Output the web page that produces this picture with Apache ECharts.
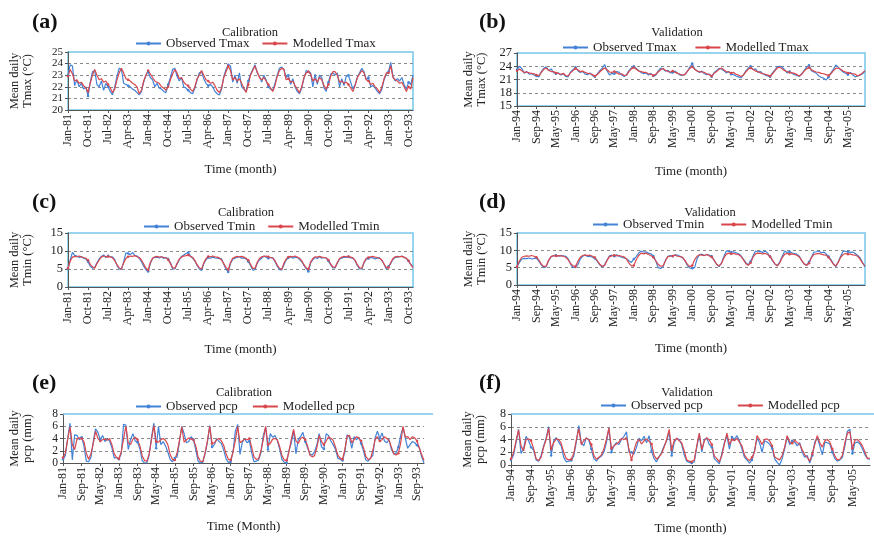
<!DOCTYPE html>
<html>
<head>
<meta charset="utf-8">
<script src="https://cdn.jsdelivr.net/npm/echarts@6/dist/echarts.min.js"></script>
<style>
  html, body { margin: 0; padding: 0; background: #fff; }
  #chart { width: 874px; height: 536px; }
</style>
</head>
<body>
<div id="chart"></div>
<script>
// month names and years used to build the category axes
var monthNames = ['Jan', 'Feb', 'Mar', 'Apr', 'May', 'Jun', 'Jul', 'Aug', 'Sep', 'Oct', 'Nov', 'Dec'];
var calYears = ['81', '82', '83', '84', '85', '86', '87', '88', '89', '90', '91', '92', '93'];
var valYears = ['94', '95', '96', '97', '98', '99', '00', '01', '02', '03', '04', '05'];

// (a) Tmax calibration, one row per year
var tmaxCalObs = [
  [23.0, 23.9, 23.8, 22.1, 22.6, 22.0, 22.3, 21.8, 22.0, 21.2, 22.4, 23.3],
  [23.4, 22.2, 22.0, 22.5, 21.7, 22.3, 22.0, 21.6, 21.3, 22.0, 22.9, 23.6],
  [23.5, 22.3, 22.2, 22.1, 22.0, 21.8, 21.7, 21.5, 21.3, 21.6, 22.4, 23.0],
  [23.3, 22.8, 22.6, 22.0, 22.3, 21.9, 21.8, 21.6, 21.5, 22.2, 22.8, 23.5],
  [23.6, 22.9, 22.5, 22.8, 22.0, 21.9, 21.7, 21.5, 21.4, 21.9, 22.6, 23.2],
  [23.3, 22.7, 22.3, 22.1, 22.2, 22.0, 21.6, 21.4, 21.3, 21.8, 22.9, 23.5],
  [23.9, 23.8, 22.4, 23.0, 22.3, 23.2, 22.0, 21.8, 21.6, 22.5, 23.1, 23.5],
  [23.9, 23.2, 22.9, 22.4, 23.0, 22.6, 22.0, 21.8, 21.7, 22.3, 23.0, 23.6],
  [23.7, 23.5, 22.8, 23.0, 22.2, 22.7, 22.0, 21.6, 21.4, 21.9, 22.7, 23.4],
  [23.3, 23.2, 22.0, 23.1, 22.2, 23.0, 22.8, 21.9, 21.6, 22.4, 23.1, 23.2],
  [23.0, 23.2, 22.0, 22.7, 22.1, 22.9, 23.0, 22.4, 21.8, 22.2, 22.8, 23.2],
  [23.6, 23.3, 22.6, 22.8, 22.0, 22.1, 21.9, 21.6, 21.4, 21.8, 22.6, 23.1],
  [23.3, 24.1, 22.9, 22.5, 22.7, 22.5, 22.8, 22.2, 21.8, 22.4, 22.2, 23.0]
];
var tmaxCalMod = [
  [22.9, 23.5, 23.1, 22.5, 22.6, 22.3, 22.4, 22.1, 21.9, 21.6, 22.3, 23.0],
  [23.5, 23.0, 22.6, 22.7, 22.4, 22.5, 22.2, 21.9, 21.5, 21.8, 22.6, 23.2],
  [23.6, 23.2, 22.7, 22.6, 22.5, 22.3, 22.2, 22.0, 21.4, 21.7, 22.5, 23.0],
  [23.4, 23.1, 22.8, 22.5, 22.4, 22.3, 22.0, 21.9, 21.7, 22.0, 22.6, 23.1],
  [23.5, 23.2, 22.7, 22.8, 22.4, 22.2, 22.1, 21.8, 21.6, 22.0, 22.7, 23.0],
  [23.4, 23.0, 22.6, 22.5, 22.3, 22.4, 22.1, 21.7, 21.5, 21.9, 22.8, 23.3],
  [23.8, 23.4, 22.6, 22.8, 22.5, 22.7, 22.3, 21.9, 21.5, 22.2, 23.0, 23.4],
  [23.8, 23.3, 22.8, 22.6, 22.8, 22.5, 22.2, 21.9, 21.6, 22.1, 22.9, 23.4],
  [23.6, 23.5, 22.6, 22.7, 22.4, 22.5, 22.1, 21.8, 21.5, 22.0, 22.8, 23.2],
  [23.3, 23.1, 22.5, 22.7, 22.4, 22.8, 22.6, 22.1, 21.8, 22.2, 22.9, 23.3],
  [23.3, 23.0, 22.4, 22.5, 22.3, 22.4, 22.2, 21.9, 21.6, 22.1, 22.8, 23.1],
  [23.4, 23.2, 22.6, 22.5, 22.2, 22.3, 22.0, 21.8, 21.5, 22.0, 22.7, 23.2],
  [23.2, 23.8, 22.8, 22.6, 22.5, 22.3, 22.4, 22.0, 21.6, 22.0, 21.8, 22.8]
];

// (b) Tmax validation
var tmaxValObs = [
  [23.2, 24.0, 23.5, 22.4, 22.8, 22.2, 22.3, 22.0, 21.8, 21.6, 22.8, 23.5],
  [23.9, 23.0, 23.4, 22.6, 22.3, 22.5, 22.0, 22.3, 21.7, 21.6, 22.7, 23.2],
  [23.8, 23.0, 22.6, 22.8, 22.2, 22.1, 22.5, 21.9, 21.6, 22.3, 23.0, 23.5],
  [24.4, 23.0, 22.0, 22.4, 22.3, 22.8, 22.6, 22.0, 21.7, 22.1, 23.0, 23.6],
  [24.0, 23.5, 23.0, 22.6, 22.3, 22.5, 22.0, 22.4, 21.8, 22.0, 22.9, 23.6],
  [23.4, 22.9, 23.1, 22.5, 22.6, 22.9, 22.4, 22.0, 21.9, 22.2, 22.8, 23.8],
  [24.6, 23.4, 23.0, 22.6, 22.9, 22.3, 22.1, 22.2, 21.6, 22.6, 23.0, 23.5],
  [23.4, 23.0, 22.5, 22.8, 22.2, 22.1, 21.8, 21.6, 21.4, 22.0, 22.9, 23.6],
  [24.0, 23.2, 23.4, 22.6, 22.8, 22.3, 22.0, 21.8, 21.6, 22.5, 23.2, 23.9],
  [24.0, 23.8, 23.2, 22.5, 22.8, 22.4, 22.1, 21.9, 21.7, 22.3, 23.0, 23.8],
  [24.2, 23.0, 22.7, 22.4, 21.8, 21.5, 21.3, 20.9, 21.5, 22.5, 23.3, 24.3],
  [23.8, 23.2, 22.7, 22.4, 22.1, 22.6, 22.0, 21.6, 21.8, 22.0, 22.3, 22.9]
];
var tmaxValMod = [
  [23.0, 23.4, 23.0, 22.6, 22.7, 22.5, 22.4, 22.3, 22.0, 21.9, 22.6, 23.3],
  [23.6, 23.1, 22.8, 22.8, 22.5, 22.4, 22.2, 22.4, 21.9, 21.8, 22.5, 23.0],
  [23.5, 23.2, 22.8, 22.9, 22.6, 22.4, 22.3, 22.1, 21.8, 22.1, 22.7, 23.2],
  [23.6, 23.2, 22.7, 22.6, 22.8, 22.5, 22.2, 22.3, 21.9, 22.0, 22.8, 23.4],
  [23.7, 23.3, 22.9, 22.8, 22.6, 22.6, 22.3, 22.2, 21.9, 22.2, 22.7, 23.2],
  [23.5, 23.1, 22.8, 22.7, 22.9, 22.6, 22.4, 22.2, 22.0, 22.1, 22.9, 23.5],
  [23.9, 23.3, 22.9, 22.8, 22.7, 22.6, 22.3, 22.1, 21.8, 22.4, 22.8, 23.3],
  [23.6, 23.2, 22.8, 22.7, 22.5, 22.6, 22.2, 22.0, 21.7, 22.0, 22.7, 23.3],
  [23.6, 23.3, 22.9, 22.8, 22.5, 22.3, 22.2, 22.0, 21.8, 22.3, 23.0, 23.6],
  [23.8, 23.4, 23.0, 22.8, 22.6, 22.5, 22.4, 22.1, 21.8, 22.2, 22.9, 23.4],
  [23.7, 23.2, 22.9, 22.7, 22.6, 22.4, 22.3, 22.1, 21.9, 22.3, 23.0, 23.5],
  [23.6, 23.3, 22.9, 22.7, 22.5, 22.4, 22.3, 22.2, 21.8, 22.1, 22.5, 23.0]
];

// (c) Tmin calibration
var tminCalObs = [
  [5.0, 7.5, 9.6, 8.8, 8.6, 8.2, 8.5, 8.0, 7.8, 7.0, 5.8, 5.2],
  [5.5, 6.7, 7.8, 8.5, 8.9, 8.2, 8.7, 8.3, 8.4, 7.6, 6.0, 5.0],
  [4.9, 7.0, 9.5, 9.3, 9.0, 9.6, 8.8, 8.6, 8.0, 7.0, 5.8, 4.8],
  [4.3, 6.5, 8.0, 8.2, 8.3, 8.1, 8.4, 7.9, 8.2, 7.8, 6.8, 5.0],
  [5.0, 6.3, 7.6, 8.5, 8.9, 9.3, 9.6, 8.6, 8.0, 7.2, 6.0, 5.0],
  [4.6, 6.5, 7.6, 8.2, 8.0, 8.3, 8.1, 8.0, 7.9, 7.8, 6.3, 4.9],
  [4.2, 6.5, 7.7, 8.0, 8.2, 8.4, 8.0, 8.1, 7.8, 7.1, 6.0, 4.7],
  [4.8, 6.6, 7.5, 8.0, 8.6, 8.3, 8.0, 8.2, 8.1, 7.0, 5.8, 4.9],
  [4.7, 6.2, 7.5, 8.1, 8.4, 8.0, 8.3, 8.2, 7.7, 7.0, 6.0, 5.1],
  [4.3, 6.7, 7.6, 8.2, 7.9, 8.4, 8.0, 8.2, 8.0, 7.2, 6.2, 5.3],
  [5.3, 6.6, 7.8, 8.0, 8.3, 8.2, 8.4, 8.1, 8.0, 7.3, 5.9, 5.0],
  [5.0, 6.7, 7.7, 7.9, 8.2, 8.1, 7.8, 8.0, 8.1, 7.4, 6.3, 5.0],
  [5.7, 6.5, 7.7, 8.2, 8.3, 8.4, 8.6, 8.2, 7.9, 7.2, 6.3, 5.5]
];
var tminCalMod = [
  [5.2, 7.2, 8.3, 8.5, 8.4, 8.6, 8.3, 8.2, 8.0, 7.4, 6.3, 5.6],
  [5.2, 6.5, 7.5, 8.3, 8.6, 8.4, 8.5, 8.4, 8.1, 7.3, 6.2, 5.3],
  [5.0, 6.7, 7.9, 8.4, 8.6, 8.5, 8.7, 8.4, 8.2, 7.5, 6.4, 5.2],
  [4.7, 6.8, 8.0, 8.4, 8.5, 8.3, 8.4, 8.2, 8.1, 7.6, 6.5, 5.4],
  [5.2, 6.6, 7.8, 8.3, 8.6, 8.7, 8.9, 8.5, 8.2, 7.4, 6.2, 5.3],
  [5.0, 6.7, 7.9, 8.5, 8.4, 8.6, 8.4, 8.3, 8.1, 7.5, 6.5, 5.4],
  [4.8, 6.8, 8.0, 8.3, 8.5, 8.4, 8.5, 8.3, 8.0, 7.4, 6.3, 5.2],
  [5.2, 6.8, 7.9, 8.4, 8.5, 8.6, 8.4, 8.2, 8.0, 7.3, 6.1, 5.2],
  [4.9, 6.6, 7.8, 8.3, 8.5, 8.4, 8.6, 8.3, 8.0, 7.3, 6.2, 5.3],
  [5.0, 6.9, 7.9, 8.4, 8.3, 8.5, 8.3, 8.2, 8.1, 7.5, 6.4, 5.5],
  [5.5, 6.8, 7.9, 8.3, 8.5, 8.4, 8.5, 8.3, 8.1, 7.4, 6.2, 5.3],
  [5.2, 6.9, 8.0, 8.2, 8.4, 8.5, 8.3, 8.2, 7.9, 7.5, 6.4, 5.4],
  [5.4, 6.8, 7.9, 8.4, 8.5, 8.4, 8.5, 8.3, 8.0, 7.3, 6.2, 5.4]
];

// (d) Tmin validation
var tminValObs = [
  [5.3, 6.5, 7.5, 7.7, 7.6, 7.8, 7.5, 7.7, 7.8, 6.8, 5.8, 5.0],
  [5.3, 7.0, 8.2, 8.4, 8.6, 8.3, 8.5, 8.4, 8.3, 7.6, 6.1, 5.0],
  [5.2, 5.8, 7.5, 8.3, 8.6, 8.2, 8.3, 8.0, 7.7, 6.8, 5.8, 5.2],
  [5.8, 7.2, 8.4, 8.6, 8.3, 8.7, 8.3, 8.0, 7.8, 7.6, 7.0, 6.5],
  [7.5, 8.2, 9.2, 9.8, 9.5, 9.6, 9.2, 9.0, 8.4, 7.0, 5.0, 4.8],
  [5.2, 7.1, 8.3, 8.5, 8.3, 8.7, 8.6, 8.3, 7.9, 7.0, 5.6, 4.9],
  [4.8, 5.0, 7.6, 8.8, 8.9, 8.5, 8.8, 8.6, 8.3, 7.1, 6.0, 5.3],
  [6.3, 8.2, 9.8, 9.7, 9.5, 9.6, 9.3, 9.0, 8.5, 7.5, 6.5, 5.8],
  [6.8, 8.4, 9.8, 9.6, 9.7, 9.4, 9.8, 9.2, 8.2, 7.0, 6.0, 5.6],
  [6.7, 8.3, 9.8, 9.4, 9.6, 9.3, 9.1, 8.9, 8.3, 7.0, 6.0, 5.8],
  [6.6, 8.0, 9.5, 9.6, 9.8, 9.3, 9.5, 9.0, 8.2, 7.3, 6.2, 5.3],
  [6.7, 8.3, 9.8, 9.7, 9.6, 9.4, 9.5, 9.1, 8.5, 7.8, 6.5, 5.2]
];
var tminValMod = [
  [5.3, 7.0, 8.0, 8.3, 8.4, 8.3, 8.5, 8.3, 8.0, 7.2, 6.0, 5.3],
  [5.5, 7.2, 8.2, 8.5, 8.4, 8.5, 8.4, 8.3, 8.0, 7.3, 6.2, 5.5],
  [5.3, 6.8, 8.0, 8.5, 8.7, 8.5, 8.6, 8.3, 7.9, 7.0, 6.0, 5.4],
  [5.6, 7.1, 8.2, 8.4, 8.6, 8.4, 8.5, 8.3, 8.1, 7.5, 6.3, 5.5],
  [5.6, 7.3, 8.5, 9.2, 9.0, 9.2, 8.8, 8.5, 8.0, 7.0, 6.0, 5.4],
  [5.5, 7.0, 8.2, 8.3, 8.4, 8.6, 8.3, 8.2, 8.0, 7.1, 6.0, 5.3],
  [5.6, 7.3, 8.3, 8.7, 8.6, 8.5, 8.8, 8.4, 8.1, 7.2, 6.0, 5.5],
  [6.2, 7.8, 8.9, 9.2, 9.0, 9.1, 8.9, 8.8, 8.3, 7.3, 6.2, 5.7],
  [6.4, 8.0, 9.0, 9.2, 9.1, 9.0, 9.1, 8.8, 8.2, 7.2, 6.1, 5.5],
  [6.4, 7.9, 8.9, 9.1, 8.9, 9.0, 8.8, 8.6, 8.1, 7.1, 6.1, 5.6],
  [6.3, 7.9, 8.8, 9.0, 9.1, 8.9, 8.7, 8.6, 8.0, 7.0, 6.0, 5.5],
  [6.5, 8.0, 8.8, 9.1, 8.9, 8.9, 8.7, 8.6, 8.3, 7.4, 6.3, 5.5]
];

// (e) pcp calibration
var pcpCalObs = [
  [0.6, 1.2, 4.0, 6.5, 0.5, 4.6, 4.5, 3.8, 4.2, 2.8, 0.3, 0.2],
  [0.9, 3.5, 5.6, 5.0, 3.8, 4.5, 3.5, 4.0, 3.6, 2.5, 0.8, 0.9],
  [0.6, 1.5, 6.3, 6.2, 2.2, 3.8, 4.8, 3.6, 3.4, 2.3, 0.4, 0.0],
  [0.0, 1.3, 4.2, 6.5, 2.4, 6.0, 3.0, 3.5, 2.8, 1.8, 0.6, 0.2],
  [0.8, 1.0, 3.5, 6.0, 4.8, 3.3, 3.5, 4.3, 3.8, 2.2, 0.3, 0.0],
  [0.1, 1.5, 3.4, 6.1, 2.6, 3.0, 4.0, 3.5, 3.2, 2.1, 0.7, 0.1],
  [0.2, 1.8, 5.2, 6.3, 1.4, 3.4, 4.0, 3.3, 3.6, 1.7, 0.2, 0.3],
  [0.5, 1.7, 4.5, 5.8, 2.2, 4.8, 4.2, 4.5, 3.7, 2.3, 0.6, 0.1],
  [0.0, 2.0, 3.2, 5.3, 1.5, 3.8, 4.3, 5.0, 3.5, 2.5, 1.5, 1.3],
  [1.8, 3.0, 4.8, 2.6, 2.3, 4.8, 4.5, 3.6, 3.0, 2.2, 0.8, 0.6],
  [0.4, 1.8, 4.6, 4.2, 2.4, 4.3, 3.8, 4.2, 3.2, 2.0, 0.5, 0.3],
  [0.8, 1.2, 4.1, 5.2, 4.0, 4.9, 3.6, 3.3, 3.8, 2.2, 1.5, 1.6],
  [2.6, 4.5, 5.8, 4.0, 2.4, 3.0, 3.5, 3.3, 2.9, 2.5, 1.0, 0.0]
];
var pcpCalMod = [
  [0.9, 1.6, 3.8, 5.9, 3.0, 2.2, 3.9, 4.1, 4.0, 3.5, 1.6, 0.6],
  [1.5, 3.2, 5.2, 4.0, 3.6, 3.8, 3.9, 3.7, 4.0, 3.0, 1.5, 0.9],
  [0.7, 1.8, 3.9, 6.0, 3.3, 3.0, 3.9, 4.2, 3.8, 2.8, 1.2, 0.4],
  [0.3, 1.5, 3.8, 6.1, 3.5, 3.4, 3.8, 4.0, 3.7, 3.0, 1.4, 0.6],
  [0.5, 1.7, 3.7, 5.9, 3.4, 3.8, 4.1, 3.9, 3.8, 2.8, 1.0, 0.3],
  [0.2, 1.6, 3.6, 6.0, 3.2, 3.3, 3.8, 4.0, 3.6, 2.9, 1.5, 0.6],
  [0.5, 1.8, 3.7, 6.0, 3.3, 3.6, 3.9, 3.8, 4.0, 2.6, 1.0, 0.6],
  [0.7, 2.0, 3.8, 6.0, 3.0, 3.2, 3.9, 4.0, 3.8, 2.7, 1.2, 0.5],
  [0.4, 1.8, 3.8, 5.5, 3.6, 3.2, 4.0, 4.2, 3.8, 2.8, 1.3, 1.0],
  [1.2, 2.5, 4.5, 3.5, 3.0, 3.6, 4.3, 4.0, 3.7, 2.6, 1.3, 0.8],
  [0.6, 2.2, 4.4, 4.5, 3.3, 3.8, 4.3, 4.1, 3.6, 2.5, 1.1, 0.6],
  [0.7, 2.0, 3.8, 4.3, 3.6, 3.8, 4.3, 4.0, 3.7, 2.6, 1.5, 1.3],
  [1.6, 3.3, 6.0, 4.2, 4.3, 3.8, 4.3, 4.1, 3.6, 2.4, 1.4, 0.4]
];

// (f) pcp validation
var pcpValObs = [
  [0.8, 1.5, 3.5, 5.6, 1.8, 2.6, 4.5, 3.8, 2.8, 2.3, 0.8, 0.6],
  [1.5, 3.0, 4.2, 6.0, 1.5, 3.8, 4.3, 3.6, 3.0, 1.2, 0.5, 0.6],
  [0.7, 1.4, 3.6, 6.2, 3.5, 3.0, 4.3, 3.9, 2.5, 1.0, 0.6, 1.1],
  [1.4, 2.0, 3.5, 5.8, 2.0, 3.0, 3.5, 3.2, 4.0, 4.5, 5.2, 2.0],
  [2.0, 1.7, 2.8, 4.2, 3.8, 4.5, 3.5, 4.6, 2.2, 1.0, 0.5, 1.3],
  [2.0, 3.0, 3.8, 5.2, 1.5, 3.5, 4.2, 4.0, 3.2, 1.6, 0.6, 0.4],
  [0.3, 0.5, 2.8, 4.8, 2.0, 4.0, 4.2, 3.2, 2.8, 1.0, 0.6, 0.2],
  [1.8, 3.5, 4.6, 2.5, 4.4, 4.0, 4.6, 3.8, 2.5, 1.2, 0.8, 0.3],
  [0.8, 2.3, 4.2, 3.5, 2.0, 3.8, 3.6, 3.3, 2.6, 1.0, 0.4, 0.0],
  [1.0, 2.5, 4.5, 3.2, 3.8, 3.6, 3.0, 3.5, 2.0, 1.2, 1.5, 0.3],
  [1.5, 3.6, 4.3, 3.0, 1.6, 3.6, 3.5, 3.3, 2.0, 1.0, 0.6, 0.8],
  [1.2, 3.0, 5.3, 5.6, 1.8, 3.5, 3.6, 3.3, 2.5, 1.6, 1.0, 0.9]
];
var pcpValMod = [
  [1.0, 1.9, 3.8, 5.5, 3.0, 2.2, 4.0, 4.1, 3.8, 2.6, 1.0, 0.7],
  [1.2, 2.8, 4.0, 5.8, 2.5, 3.5, 4.1, 4.0, 3.4, 2.0, 1.0, 0.8],
  [0.9, 1.8, 3.9, 5.7, 3.2, 3.8, 4.2, 4.0, 3.2, 1.5, 0.9, 1.2],
  [1.6, 2.5, 4.0, 5.8, 2.6, 3.0, 3.3, 3.6, 4.2, 4.0, 4.3, 2.5],
  [0.8, 2.3, 3.6, 4.0, 3.3, 3.8, 4.1, 3.7, 3.3, 1.5, 0.9, 1.3],
  [1.8, 2.8, 4.0, 5.6, 2.4, 3.8, 4.2, 3.8, 3.5, 2.2, 0.8, 0.6],
  [0.5, 0.8, 3.0, 5.0, 2.4, 3.8, 4.3, 3.9, 3.2, 1.4, 1.0, 0.5],
  [1.5, 3.3, 5.0, 3.2, 4.0, 3.8, 4.2, 3.6, 3.0, 1.6, 1.0, 0.7],
  [1.2, 2.0, 4.6, 4.0, 3.2, 4.0, 4.1, 3.8, 3.0, 1.3, 1.0, 0.8],
  [1.5, 2.8, 4.6, 3.6, 3.4, 3.9, 3.5, 3.3, 2.4, 1.6, 1.2, 0.6],
  [1.7, 3.2, 4.6, 3.5, 2.8, 3.8, 4.0, 3.6, 2.5, 1.4, 0.8, 0.9],
  [1.5, 3.5, 5.0, 5.2, 2.6, 3.9, 4.0, 3.6, 3.0, 2.0, 1.0, 1.1]
];

function monthLabels(years) {
  var out = [];
  years.forEach(function (y) {
    monthNames.forEach(function (m) { out.push(m + '-' + y); });
  });
  return out;
}
var calMonths = monthLabels(calYears);
var valMonths = monthLabels(valYears);

var FONT = '"Liberation Serif", "DejaVu Serif", serif';
var BLUE = '#4283d6';
var RED = '#d9474c';
var BOX = '#76c7ea';

// layout of the six panels
var panels = [
  { tag: '(a)', tx: 32, ty: 11, sub: 'Calibration', sx: 250, sy: 33,
    lx: 135, ly: 37, lgap: 12, grid: { left: 68, top: 52, width: 345, height: 58 }, box: true,
    cats: calMonths, obs: tmaxCalObs, mod: tmaxCalMod, names: ['Observed Tmax', 'Modelled Tmax'],
    ymin: 20, ymax: 25, yint: 1, xint: 8, yfs: 11, yname: 'Mean daily\nTmax (\u00B0C)', ygap: 34,
    xname: 'Time (month)', xgap: 53 },
  { tag: '(b)', tx: 479, ty: 11, sub: 'Validation', sx: 677, sy: 33,
    lx: 562, ly: 41, lgap: 18, grid: { left: 517, top: 53, width: 348, height: 53 }, box: true,
    cats: valMonths, obs: tmaxValObs, mod: tmaxValMod, names: ['Observed Tmax', 'Modelled Tmax'],
    ymin: 15, ymax: 27, yint: 3, xint: 7, yfs: 12.5, yname: 'Mean daily\nTmax (\u00B0C)', ygap: 29,
    xname: 'Time (month)', xgap: 59 },
  { tag: '(c)', tx: 32, ty: 191, sub: 'Calibration', sx: 246, sy: 213,
    lx: 143, ly: 220, lgap: 12, grid: { left: 68, top: 233, width: 345, height: 54 }, box: true,
    cats: calMonths, obs: tminCalObs, mod: tminCalMod, names: ['Observed Tmin', 'Modelled Tmin'],
    ymin: 0, ymax: 15, yint: 5, xint: 8, yfs: 12.5, yname: 'Mean daily\nTmin (\u00B0C)', ygap: 34,
    xname: 'Time (month)', xgap: 56 },
  { tag: '(d)', tx: 479, ty: 191, sub: 'Validation', sx: 710, sy: 213,
    lx: 592, ly: 218, lgap: 16, grid: { left: 517, top: 233, width: 348, height: 52 }, box: true,
    cats: valMonths, obs: tminValObs, mod: tminValMod, names: ['Observed Tmin', 'Modelled Tmin'],
    ymin: 0, ymax: 15, yint: 5, xint: 7, yfs: 12.5, yname: 'Mean daily\nTmin (\u00B0C)', ygap: 29,
    xname: 'Time (month)', xgap: 57 },
  { tag: '(e)', tx: 32, ty: 372, sub: 'Calibration', sx: 244, sy: 393,
    lx: 135, ly: 400, lgap: 14, grid: { left: 63, top: 414, width: 361, height: 49 }, box: false, topLine: [63, 433],
    cats: calMonths, obs: pcpCalObs, mod: pcpCalMod, names: ['Observed pcp', 'Modelled pcp'],
    ymin: 0, ymax: 8, yint: 2, xint: 7, yfs: 11.5, yname: 'Mean daily\npcp (mm)', ygap: 29,
    xname: 'Time (Month)', xgap: 57 },
  { tag: '(f)', tx: 479, ty: 372, sub: 'Validation', sx: 687, sy: 393,
    lx: 600, ly: 399, lgap: 34, grid: { left: 511, top: 414, width: 359, height: 52 }, box: false, topLine: [511, 874],
    cats: valMonths, obs: pcpValObs, mod: pcpValMod, names: ['Observed pcp', 'Modelled pcp'],
    ymin: 0, ymax: 8, yint: 2, xint: 7, yfs: 12, yname: 'Mean daily\npcp (mm)', ygap: 24,
    xname: 'Time (month)', xgap: 57 }
];

var grids = [], xAxes = [], yAxes = [], series = [], legends = [], graphics = [];

panels.forEach(function (p, i) {
  grids.push(Object.assign({
    show: p.box, borderColor: BOX, borderWidth: 1.5, containLabel: false
  }, p.grid));

  xAxes.push({
    gridIndex: i, type: 'category', boundaryGap: false, data: p.cats,
    axisLine: { lineStyle: { color: '#555', width: 1 } },
    axisTick: { interval: p.xint, length: 3, lineStyle: { color: '#555' } },
    axisLabel: { interval: p.xint, rotate: 90, margin: 4, fontFamily: FONT, fontSize: 12, color: '#222' },
    splitLine: { show: false },
    name: p.xname, nameLocation: 'middle', nameGap: p.xgap,
    nameTextStyle: { fontFamily: FONT, fontSize: 13, color: '#222' }
  });

  yAxes.push({
    gridIndex: i, type: 'value', min: p.ymin, max: p.ymax, interval: p.yint,
    axisLine: { show: true, lineStyle: { color: '#555', width: 1 } },
    axisTick: { show: true, length: 3, lineStyle: { color: '#555' } },
    axisLabel: { margin: 5, fontFamily: FONT, fontSize: p.yfs, interval: 0,
      color: '#222', showMinLabel: true, showMaxLabel: true, hideOverlap: false },
    splitLine: { show: true, showMinLine: false, showMaxLine: false,
      lineStyle: { type: [3, 3], color: '#8a8a8a', width: 1 } },
    name: p.yname, nameLocation: 'middle', nameRotate: 90, nameGap: p.ygap,
    nameTextStyle: { fontFamily: FONT, fontSize: 12.5, lineHeight: 13, color: '#222' }
  });

  series.push({
    name: p.names[0], type: 'line', xAxisIndex: i, yAxisIndex: i,
    data: p.obs.flat(), symbol: 'circle', symbolSize: 2.5, showSymbol: true,
    itemStyle: { color: BLUE }, lineStyle: { color: BLUE, width: 1.2 }
  });
  series.push({
    name: p.names[1], type: 'line', xAxisIndex: i, yAxisIndex: i,
    data: p.mod.flat(), symbol: 'circle', symbolSize: 2.5, showSymbol: true,
    itemStyle: { color: RED }, lineStyle: { color: RED, width: 1.2 }
  });

  legends.push({
    data: p.names, left: p.lx, top: p.ly, padding: 0, itemGap: p.lgap,
    itemWidth: 25, itemHeight: 5, selectedMode: false,
    textStyle: { fontFamily: FONT, fontSize: 13, color: '#222' }
  });

  graphics.push({
    type: 'text', x: p.tx, y: p.ty,
    style: { text: p.tag, font: 'bold 22px ' + FONT, fill: '#111' }
  });
  graphics.push({
    type: 'text', x: p.sx, y: p.sy,
    style: { text: p.sub, font: '12.5px ' + FONT, fill: '#222', align: 'center', verticalAlign: 'middle' }
  });
  if (p.topLine) {
    graphics.push({
      type: 'line', z: 5,
      shape: { x1: p.topLine[0], y1: p.grid.top, x2: p.topLine[1], y2: p.grid.top },
      style: { stroke: BOX, lineWidth: 1.5 }
    });
  }
});

var chart = echarts.init(document.getElementById('chart'));
chart.setOption({
  animation: false,
  backgroundColor: '#fff',
  grid: grids,
  xAxis: xAxes,
  yAxis: yAxes,
  legend: legends,
  series: series,
  graphic: graphics
});
</script>
</body>
</html>
